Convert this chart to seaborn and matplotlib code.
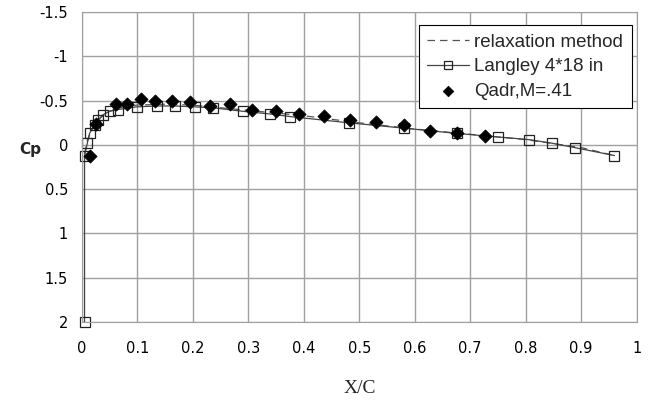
import numpy as np
import pandas as pd
import seaborn as sns
import matplotlib.pyplot as plt

# relaxation method (dashed curve)
relax_x = [0.005, 0.01, 0.02, 0.03, 0.05, 0.075, 0.1, 0.15, 0.2, 0.25, 0.3, 0.4, 0.5, 0.6, 0.7, 0.8, 0.9, 0.96]
relax_cp = [0.10, -0.05, -0.20, -0.29, -0.38, -0.43, -0.45, -0.46, -0.45, -0.42, -0.39, -0.33, -0.25, -0.18, -0.12, -0.06, 0.03, 0.12]

# Langley 4*18 in (open squares)
langley_x = [0.005, 0.005, 0.01, 0.014, 0.023, 0.03, 0.038, 0.05, 0.065, 0.099, 0.135, 0.168, 0.204, 0.236,
             0.29, 0.339, 0.376, 0.481, 0.58, 0.676, 0.75, 0.806, 0.847, 0.888, 0.96]
langley_cp = [2.0, 0.12, -0.02, -0.13, -0.23, -0.28, -0.34, -0.38, -0.40, -0.43, -0.44, -0.44, -0.43, -0.42,
              -0.38, -0.35, -0.32, -0.25, -0.19, -0.13, -0.09, -0.06, -0.02, 0.03, 0.12]

# Qadr, M=.41 (filled diamonds)
qadr_x = [0.014, 0.026, 0.061, 0.082, 0.107, 0.132, 0.162, 0.195, 0.231, 0.267, 0.307, 0.35, 0.391,
          0.436, 0.483, 0.531, 0.58, 0.627, 0.676, 0.727]
qadr_cp = [0.12, -0.24, -0.46, -0.46, -0.52, -0.50, -0.50, -0.48, -0.44, -0.46, -0.40, -0.38, -0.35,
           -0.33, -0.28, -0.26, -0.23, -0.16, -0.13, -0.10]

df_relax = pd.DataFrame({'x': relax_x, 'cp': relax_cp})
df_langley = pd.DataFrame({'x': langley_x, 'cp': langley_cp})
df_qadr = pd.DataFrame({'x': qadr_x, 'cp': qadr_cp})

sns.set_style('white')
plt.rcParams['font.family'] = ['DejaVu Sans']

fig = plt.figure(figsize=(6.49, 4.05), dpi=100)
ax = fig.add_axes([0.126, 0.205, 0.855, 0.765])

sns.lineplot(data=df_relax, x='x', y='cp', ax=ax, color='#555555', linestyle=(0, (6, 4)),
             linewidth=0.9, sort=False, estimator=None, label='relaxation method')
sns.lineplot(data=df_langley, x='x', y='cp', ax=ax, color='#444444', linewidth=0.9, sort=False,
             estimator=None, marker='s', markersize=7.5, markerfacecolor='none', markeredgecolor='#222222',
             markeredgewidth=0.9, label='Langley 4*18 in', clip_on=False)
sns.scatterplot(data=df_qadr, x='x', y='cp', ax=ax, marker='D', s=45, color='black',
                edgecolor='black', label='Qadr,M=.41', zorder=5)

ax.set_xlim(0, 1)
ax.set_ylim(2, -1.5)
ax.set_xticks(np.arange(0, 1.01, 0.1))
ax.set_xticklabels(['0', '0.1', '0.2', '0.3', '0.4', '0.5', '0.6', '0.7', '0.8', '0.9', '1'])
ax.set_yticks([-1.5, -1, -0.5, 0, 0.5, 1, 1.5, 2])
ax.set_yticklabels(['-1.5', '-1', '-0.5', '0', '0.5', '1', '1.5', '2'])
ax.grid(True, color='#a0a0a0', linewidth=1)
ax.set_axisbelow(True)
for s in ax.spines.values():
    s.set_color('#a0a0a0')
ax.tick_params(axis='both', labelsize=10.5, length=0, pad=10, colors='black')
ax.tick_params(axis='x', pad=14)
ax.set_xlabel('')
ax.set_ylabel('')

fig.text(0.046, 0.63, 'Cp', fontsize=11, fontweight='bold', ha='center', va='center')
fig.text(0.555, 0.04, 'X/C', fontsize=14, family='Liberation Serif', ha='center', va='center')

h, l = ax.get_legend_handles_labels()
leg = ax.legend(h, l, loc='upper right', bbox_to_anchor=(0.991, 0.958), borderaxespad=0,
                fancybox=False, framealpha=1, edgecolor='black',
                prop={'family': 'Liberation Sans', 'size': 13.5},
                handlelength=2.2, handletextpad=0.3, borderpad=0.45, labelspacing=0.4,
                markerscale=0.8)
leg.get_frame().set_linewidth(0.8)

fig.savefig('out.png', dpi=100)
